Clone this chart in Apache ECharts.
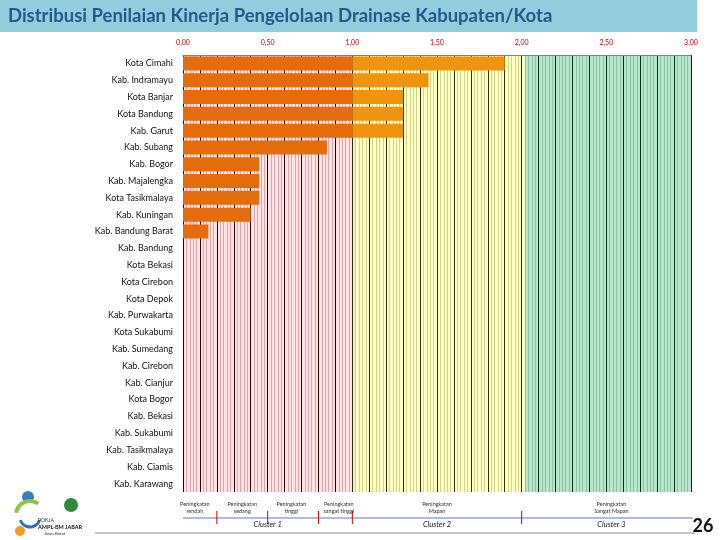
<!DOCTYPE html>
<html>
<head>
<meta charset="utf-8">
<script src="https://cdn.jsdelivr.net/npm/echarts@6/dist/echarts.min.js"></script>
<style>
html,body{margin:0;padding:0;background:#fff;}
#chart{width:720px;height:540px;}
</style>
</head>
<body>
<div id="chart"></div>
<script>
// ---- data ----
const categories = ['Kota Cimahi','Kab. Indramayu','Kota Banjar','Kota Bandung','Kab. Garut','Kab. Subang','Kab. Bogor','Kab. Majalengka','Kota Tasikmalaya','Kab. Kuningan','Kab. Bandung Barat','Kab. Bandung','Kota Bekasi','Kota Cirebon','Kota Depok','Kab. Purwakarta','Kota Sukabumi','Kab. Sumedang','Kab. Cirebon','Kab. Cianjur','Kota Bogor','Kab. Bekasi','Kab. Sukabumi','Kab. Tasikmalaya','Kab. Ciamis','Kab. Karawang'];
const scores = [1.90,1.45,1.30,1.30,1.30,0.85,0.45,0.45,0.45,0.40,0.15,0,0,0,0,0,0,0,0,0,0,0,0,0,0,0];
const clusterSplit = 1.0;           // dark part up to this value
const levelThresholds = [0.2,0.5,0.8,1.0,2.0];
const levelLabels = [
  {v:0.07, t:'Peningkatan\nrendah'},
  {v:0.35, t:'Peningkatan\nsedang'},
  {v:0.64, t:'Peningkatan\ntinggi'},
  {v:0.92, t:'Peningkatan\nsangat tinggi'},
  {v:1.50, t:'Peningkatan\nMapan'},
  {v:2.53, t:'Peningkatan\nSangat Mapan'}
];
const clusterLabels = [{v:0.50,t:'Cluster 1'},{v:1.50,t:'Cluster 2'},{v:2.53,t:'Cluster 3'}];
const tickLabels = ['0,00','0,50','1,00','1,50','2,00','2,50','3,00'];

// ---- derived ----
const baseData = scores.map(v => Math.min(v, clusterSplit));
const extraData = scores.map(v => v > clusterSplit ? Math.round((v - clusterSplit)*100)/100 : 0);

const regionBg = ['#FDE3E3','#FFFFC4','#B6E7CD'];
const regionMinor = ['#DBA5B0','#D2D28C','#8DC2A6'];
const regionMajor = ['#2A0000','#2E2E00','#00301A'];
const nSteps = 150;
const areaColors = ['#FDE3E3'];
for (let i = 0; i < nSteps; i++) areaColors.push(regionBg[Math.floor(i/50)]);
const lineColors = [];
for (let i = 0; i <= nSteps; i++) {
  const r = Math.min(2, Math.floor(i/50));
  lineColors.push(i % 5 === 0 ? regionMajor[r] : regionMinor[r]);
}

const chart = echarts.init(document.getElementById('chart'));
const option = {
  animation: false,
  backgroundColor: '#ffffff',
  grid: {left: 183, right: 29, top: 55, bottom: 48, containLabel: false},
  xAxis: {
    type: 'value', position: 'top', min: 0, max: 3, interval: 0.02,
    axisLine: {show: true, lineStyle: {color: '#7f7f7f', width: 1}},
    axisTick: {show: false},
    axisLabel: {
      color: '#C00000', fontSize: 7, fontFamily: 'Lato', margin: 9,
      formatter: function (v) {
        const k = Math.round(v*2);
        if (Math.abs(v*2 - k) < 1e-6) return tickLabels[k];
        return '';
      }
    },
    splitLine: {show: true, lineStyle: {color: lineColors, width: 1}},
    splitArea: {show: true, areaStyle: {color: areaColors}}
  },
  yAxis: {
    type: 'category', inverse: true, data: categories,
    axisLine: {show: false}, axisTick: {show: false},
    axisLabel: {color: '#111', fontSize: 9, fontFamily: 'Lato', margin: 10}
  },
  series: [
    {type: 'bar', stack: 's', data: baseData, barWidth: 14,
     itemStyle: {color: '#E46C0A'}, z: 3},
    {type: 'bar', stack: 's', data: extraData, barWidth: 14,
     itemStyle: {color: '#EE9410'}, z: 3}
  ]
};
chart.setOption(option);

// ---- annotations (header, level legend, footer) ----
function px(v) { return chart.convertToPixel({xAxisIndex: 0}, v); }
const g = [];
g.push({type:'rect', shape:{x:0,y:0,width:697,height:32}, style:{fill:'#93CDDD'}, z:10});
g.push({type:'text', x:8, y:16, style:{text:'Distribusi Penilaian Kinerja Pengelolaan Drainase Kabupaten/Kota', fill:'#245A8A', font:'bold 18.5px Lato', verticalAlign:'middle'}, z:11});
g.push({type:'line', shape:{x1:px(0),y1:518,x2:693,y2:518}, style:{stroke:'#94ABC8', lineWidth:1.5}, z:10});
levelThresholds.forEach(t => {
  g.push({type:'line', shape:{x1:px(t),y1:511,x2:px(t),y2:524}, style:{stroke:'#C00000', lineWidth:1}, z:11});
});
levelLabels.forEach(l => {
  g.push({type:'text', x:px(l.v), y:508, style:{text:l.t, fill:'#333', font:'5.5px Lato', align:'center', verticalAlign:'middle', lineHeight:7}, z:11});
});
clusterLabels.forEach(l => {
  g.push({type:'text', x:px(l.v), y:525, style:{text:l.t, fill:'#222', font:'italic 7.5px Lato', align:'center', verticalAlign:'middle'}, z:11});
});
g.push({type:'text', x:703, y:526, style:{text:'26', fill:'#111', font:'bold 18px Lato', align:'center', verticalAlign:'middle'}, z:11});
g.push({type:'line', shape:{x1:95,y1:533,x2:695,y2:533}, style:{stroke:'#8a8a8a', lineWidth:1}, z:10});
// simple logo
g.push({type:'circle', shape:{cx:28,cy:497,r:6}, style:{fill:'#3A7CC0'}, z:11});
g.push({type:'arc', shape:{cx:30,cy:515,r:14,startAngle:Math.PI*1.05,endAngle:Math.PI*1.7}, style:{stroke:'#8CC63F', lineWidth:4, fill:null}, z:11});
g.push({type:'arc', shape:{cx:30,cy:517,r:10,startAngle:Math.PI*0.1,endAngle:Math.PI*0.9}, style:{stroke:'#2E6DB4', lineWidth:3, fill:null}, z:11});
g.push({type:'circle', shape:{cx:20,cy:531,r:5}, style:{fill:'#F39C1E'}, z:11});
g.push({type:'circle', shape:{cx:71,cy:505,r:7}, style:{fill:'#2E8B3A'}, z:11});
g.push({type:'text', x:38, y:518, style:{text:'POKJA', fill:'#333', font:'5px Lato'}, z:11});
g.push({type:'text', x:38, y:524, style:{text:'AMPL-BM JABAR', fill:'#111', font:'bold 5.5px Lato'}, z:11});
g.push({type:'text', x:44, y:531, style:{text:'Jawa Barat', fill:'#333', font:'4.5px Lato'}, z:11});
chart.setOption({graphic: g});
</script>
</body>
</html>
